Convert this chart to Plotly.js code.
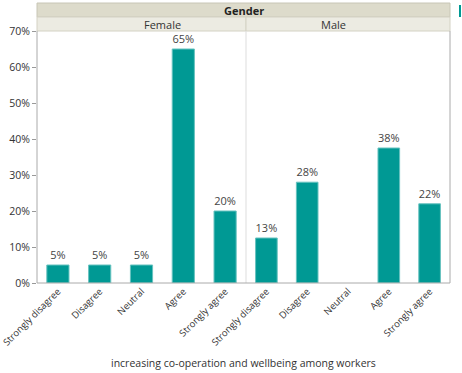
<!DOCTYPE html>
<html><head><meta charset="utf-8">
<script src="https://cdn.plot.ly/plotly-3.0.1.min.js"></script>
<style>body{margin:0;padding:0;background:#fff}#c{width:462px;height:373px}</style>
</head><body><div id="c"></div>
<script>
const categories = ["Strongly disagree","Disagree","Neutral","Agree","Strongly agree"];
const femaleValues = [5,5,5,65,20];
const maleValues = [12.5,28,null,37.5,22];
const femaleLabels = ["5%","5%","5%","65%","20%"];
const maleLabels = ["13%","28%","","38%","22%"];
const yTickVals = [0,10,20,30,40,50,60,70];
const yTickText = ["0%","10%","20%","30%","40%","50%","60%","70%"];
const panelNames = ["Female","Male"];
const groupTitle = "Gender";
const xTitle = "increasing co-operation and wellbeing among workers";

const font = "Open Sans, Noto Sans, sans-serif";
const barColor = "#009994";
const split = (246-37)/413;
const ph = 252;

function bar(vals, labels, xa){
  return {type:"bar", x:categories, y:vals, text:labels, textposition:"outside",
    cliponaxis:false, textfont:{family:font,size:11,color:"#444"},
    marker:{color:barColor,line:{color:"#66c2bf",width:1}}, xaxis:xa, yaxis:"y",
    hoverinfo:"skip"};
}
const xcommon = {type:"category", range:[-0.5,4.5], tickangle:-45, showline:false,
  ticks:"", tickfont:{family:font,size:9.5,color:"#333"}, showgrid:false, zeroline:false, anchor:"y", fixedrange:true};
const layout = {
  width:462, height:373, margin:{l:37,r:12,t:31,b:90},
  paper_bgcolor:"#fff", plot_bgcolor:"#fff", showlegend:false, bargap:0.47,
  font:{family:font},
  xaxis:Object.assign({}, xcommon, {domain:[0,split]}),
  xaxis2:Object.assign({}, xcommon, {domain:[split,1]}),
  yaxis:{range:[0,70], tickmode:"array", tickvals:yTickVals, ticktext:yTickText, ticks:"outside", ticklen:4,
    tickcolor:"#999", showline:false, showgrid:false, zeroline:false,
    tickfont:{family:font,size:10.5,color:"#333"}},
  shapes:[
    {type:"rect",xref:"paper",yref:"paper",x0:0,x1:1,y0:1+14/ph,y1:1+28/ph,fillcolor:"#dddbcb",line:{color:"#c8c6b6",width:1}},
    {type:"rect",xref:"paper",yref:"paper",x0:0,x1:split,y0:1,y1:1+14/ph,fillcolor:"#ecebe2",line:{color:"#d4d2c4",width:1}},
    {type:"rect",xref:"paper",yref:"paper",x0:split,x1:1,y0:1,y1:1+14/ph,fillcolor:"#ecebe2",line:{color:"#d4d2c4",width:1}},
    {type:"line",xref:"paper",yref:"paper",x0:0,x1:0,y0:0,y1:1,line:{color:"#aaa",width:1}},
    {type:"line",xref:"paper",yref:"paper",x0:split,x1:split,y0:0,y1:1,line:{color:"#ddd",width:1}},
    {type:"line",xref:"paper",yref:"paper",x0:1,x1:1,y0:0,y1:1,line:{color:"#aaa",width:1}},
    {type:"line",xref:"paper",yref:"paper",x0:0,x1:1,y0:0,y1:0,line:{color:"#aaa",width:1}},
    {type:"rect",xref:"paper",yref:"paper",x0:1+9/413,x1:1+11/413,y0:1+14/ph,y1:1+26/ph,fillcolor:barColor,line:{width:0}}
  ],
  annotations:[
    {text:"<b>"+groupTitle+"</b>",xref:"paper",yref:"paper",x:0.5,y:1+21/ph,showarrow:false,yanchor:"middle",font:{family:font,size:11,color:"#222"}},
    {text:panelNames[0],xref:"paper",yref:"paper",x:split/2,y:1+7/ph,showarrow:false,yanchor:"middle",font:{family:font,size:11,color:"#333"}},
    {text:panelNames[1],xref:"paper",yref:"paper",x:(split+1)/2,y:1+7/ph,showarrow:false,yanchor:"middle",font:{family:font,size:11,color:"#333"}},
    {text:xTitle,xref:"paper",yref:"paper",x:0.5,y:-80/ph,showarrow:false,yanchor:"middle",font:{family:font,size:10.5,color:"#333"}}
  ]
};
Plotly.newPlot("c",[bar(femaleValues,femaleLabels,"x"),bar(maleValues,maleLabels,"x2")],layout,{displayModeBar:false,staticPlot:true});
</script></body></html>
